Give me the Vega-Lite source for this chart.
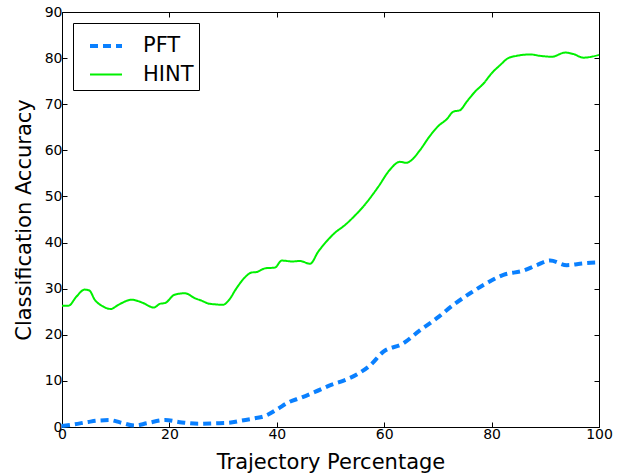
{
  "$schema": "https://vega.github.io/schema/vega-lite/v6.json",
  "width": 537,
  "height": 415,
  "autosize": {"type": "none"},
  "padding": {"left": 62, "top": 12, "right": 22, "bottom": 47},
  "background": "white",
  "data": {
    "values": [
      {"series": "PFT", "x": 0, "y": 0.2}, {"series": "PFT", "x": 2.4, "y": 0.6}, {"series": "PFT", "x": 4.9, "y": 1.1}, {"series": "PFT", "x": 6.8, "y": 1.4}, {"series": "PFT", "x": 8.9, "y": 1.5}, {"series": "PFT", "x": 10.8, "y": 1.0}, {"series": "PFT", "x": 13.6, "y": 0.3}, {"series": "PFT", "x": 15.8, "y": 0.8}, {"series": "PFT", "x": 19.2, "y": 1.5}, {"series": "PFT", "x": 22.3, "y": 1.0}, {"series": "PFT", "x": 25.4, "y": 0.7}, {"series": "PFT", "x": 28.5, "y": 0.8}, {"series": "PFT", "x": 31.0, "y": 0.9}, {"series": "PFT", "x": 33.5, "y": 1.4}, {"series": "PFT", "x": 35.9, "y": 1.9}, {"series": "PFT", "x": 37.8, "y": 2.4}, {"series": "PFT", "x": 40.0, "y": 3.8}, {"series": "PFT", "x": 42.1, "y": 5.3}, {"series": "PFT", "x": 44.6, "y": 6.4}, {"series": "PFT", "x": 47.1, "y": 7.6}, {"series": "PFT", "x": 50.5, "y": 9.3}, {"series": "PFT", "x": 51.8, "y": 9.8}, {"series": "PFT", "x": 55.2, "y": 11.6}, {"series": "PFT", "x": 57.4, "y": 13.4}, {"series": "PFT", "x": 59.8, "y": 16.3}, {"series": "PFT", "x": 63.5, "y": 18.1}, {"series": "PFT", "x": 66.7, "y": 21.0}, {"series": "PFT", "x": 69.8, "y": 23.6}, {"series": "PFT", "x": 72.9, "y": 26.5}, {"series": "PFT", "x": 76.0, "y": 29.0}, {"series": "PFT", "x": 79.1, "y": 31.2}, {"series": "PFT", "x": 82.2, "y": 33.0}, {"series": "PFT", "x": 85.9, "y": 33.9}, {"series": "PFT", "x": 88.4, "y": 35.1}, {"series": "PFT", "x": 90.9, "y": 36.1}, {"series": "PFT", "x": 94.0, "y": 35.1}, {"series": "PFT", "x": 97.1, "y": 35.5}, {"series": "PFT", "x": 100, "y": 35.7},
      {"series": "HINT", "x": 0, "y": 26.3}, {"series": "HINT", "x": 1.2, "y": 26.3}, {"series": "HINT", "x": 2.7, "y": 28.3}, {"series": "HINT", "x": 4.2, "y": 29.8}, {"series": "HINT", "x": 5.1, "y": 29.6}, {"series": "HINT", "x": 6.1, "y": 27.6}, {"series": "HINT", "x": 7.4, "y": 26.3}, {"series": "HINT", "x": 9.1, "y": 25.6}, {"series": "HINT", "x": 10.5, "y": 26.5}, {"series": "HINT", "x": 13.0, "y": 27.6}, {"series": "HINT", "x": 15.1, "y": 26.9}, {"series": "HINT", "x": 17.1, "y": 25.9}, {"series": "HINT", "x": 18.2, "y": 26.7}, {"series": "HINT", "x": 19.2, "y": 26.9}, {"series": "HINT", "x": 21.0, "y": 28.7}, {"series": "HINT", "x": 22.9, "y": 29.0}, {"series": "HINT", "x": 24.8, "y": 27.9}, {"series": "HINT", "x": 26.0, "y": 27.4}, {"series": "HINT", "x": 27.2, "y": 26.8}, {"series": "HINT", "x": 28.5, "y": 26.6}, {"series": "HINT", "x": 30.0, "y": 26.5}, {"series": "HINT", "x": 31.0, "y": 27.4}, {"series": "HINT", "x": 32.5, "y": 30.1}, {"series": "HINT", "x": 34.1, "y": 32.5}, {"series": "HINT", "x": 35.3, "y": 33.5}, {"series": "HINT", "x": 36.2, "y": 33.6}, {"series": "HINT", "x": 37.8, "y": 34.4}, {"series": "HINT", "x": 39.7, "y": 34.6}, {"series": "HINT", "x": 40.9, "y": 36.1}, {"series": "HINT", "x": 42.8, "y": 35.9}, {"series": "HINT", "x": 44.3, "y": 36.0}, {"series": "HINT", "x": 46.2, "y": 35.4}, {"series": "HINT", "x": 47.7, "y": 38.0}, {"series": "HINT", "x": 49.3, "y": 40.3}, {"series": "HINT", "x": 50.8, "y": 42.1}, {"series": "HINT", "x": 52.7, "y": 43.8}, {"series": "HINT", "x": 54.5, "y": 45.8}, {"series": "HINT", "x": 56.1, "y": 47.8}, {"series": "HINT", "x": 58.9, "y": 52.1}, {"series": "HINT", "x": 61.0, "y": 55.7}, {"series": "HINT", "x": 62.9, "y": 57.5}, {"series": "HINT", "x": 64.1, "y": 57.3}, {"series": "HINT", "x": 64.9, "y": 57.7}, {"series": "HINT", "x": 66.7, "y": 60.1}, {"series": "HINT", "x": 68.5, "y": 63.1}, {"series": "HINT", "x": 70.1, "y": 65.3}, {"series": "HINT", "x": 71.6, "y": 66.7}, {"series": "HINT", "x": 72.9, "y": 68.4}, {"series": "HINT", "x": 74.1, "y": 68.7}, {"series": "HINT", "x": 75.4, "y": 70.6}, {"series": "HINT", "x": 76.9, "y": 72.7}, {"series": "HINT", "x": 78.5, "y": 74.5}, {"series": "HINT", "x": 80.0, "y": 76.7}, {"series": "HINT", "x": 81.6, "y": 78.5}, {"series": "HINT", "x": 83.1, "y": 80.0}, {"series": "HINT", "x": 84.7, "y": 80.5}, {"series": "HINT", "x": 87.2, "y": 80.8}, {"series": "HINT", "x": 89.0, "y": 80.5}, {"series": "HINT", "x": 91.2, "y": 80.3}, {"series": "HINT", "x": 93.7, "y": 81.2}, {"series": "HINT", "x": 95.2, "y": 80.9}, {"series": "HINT", "x": 97.1, "y": 80.1}, {"series": "HINT", "x": 100, "y": 80.7}
    ]
  },
  "layer": [
    {
      "mark": {"type": "line", "interpolate": "monotone"},
      "encoding": {
        "x": {"field": "x", "type": "quantitative", "scale": {"domain": [0, 100], "nice": false, "zero": false},
              "axis": {"orient": "bottom", "values": [0, 20, 40, 60, 80, 100], "title": "Trajectory Percentage", "labelPadding": 5, "labelFlush": false, "titleY": 41, "titleBaseline": "alphabetic"}},
        "y": {"field": "y", "type": "quantitative", "scale": {"domain": [0, 90], "nice": false},
              "axis": {"orient": "left", "values": [0, 10, 20, 30, 40, 50, 60, 70, 80, 90], "title": "Classification Accuracy", "labelPadding": 5, "labelFlush": false, "titleX": -32, "titleBaseline": "alphabetic"}},
        "color": {"field": "series", "type": "nominal", "scale": {"domain": ["PFT", "HINT"], "range": ["#0a80ff", "#00f000"]}, "legend": {"title": null}},
        "strokeDash": {"field": "series", "type": "nominal", "scale": {"domain": ["PFT", "HINT"], "range": [[8, 5], [1, 0]]}, "legend": {"title": null}},
        "strokeWidth": {"field": "series", "type": "nominal", "scale": {"domain": ["PFT", "HINT"], "range": [4, 2]}, "legend": {"title": null}}
      }
    },
    {
      "mark": {"type": "line", "opacity": 0},
      "encoding": {
        "x": {"field": "x", "type": "quantitative", "axis": {"orient": "top", "values": [0, 20, 40, 60, 80, 100], "labels": false, "title": null}},
        "y": {"field": "y", "type": "quantitative", "axis": {"orient": "right", "values": [0, 10, 20, 30, 40, 50, 60, 70, 80, 90], "labels": false, "title": null}},
        "detail": {"field": "series"}
      }
    }
  ],
  "resolve": {"axis": {"x": "independent", "y": "independent"}},
  "config": {
    "font": "DejaVu Sans",
    "view": {"stroke": "black", "strokeWidth": 1},
    "axis": {"grid": false, "domain": false, "tickColor": "black", "tickSize": -5, "labelColor": "black", "titleColor": "black", "labelFontSize": 14, "titleFontSize": 21, "titleFontWeight": "normal", "labelFont": "DejaVu Sans", "titleFont": "DejaVu Sans"},
    "legend": {"orient": "none", "legendX": 11, "legendY": 11, "strokeColor": "black", "fillColor": "white", "cornerRadius": 0, "padding": 5, "symbolOffset": 10, "symbolType": "stroke", "symbolSize": 1024, "labelFontSize": 21, "labelFont": "DejaVu Sans", "labelColor": "black", "labelOffset": 19, "rowPadding": 1.5}
  }
}
